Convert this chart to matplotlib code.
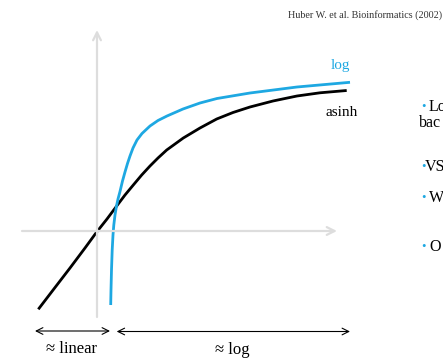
import matplotlib
matplotlib.use('Agg')
import matplotlib.pyplot as plt

# Curvas (origem no cruzamento dos eixos, 1 unidade = 10 px)
log_x = [1.37, 1.40, 1.45, 1.52, 1.60, 1.68, 1.8, 1.95, 2.1, 2.3, 2.55, 2.8, 3.05, 3.3,
         3.6, 4.0, 4.5, 5.3, 6.1, 7.0, 8.6, 10.3, 12.0, 15.3, 20.0, 25.3]
log_y = [-7.4, -5.9, -3.9, -1.9, -0.4, 0.6, 1.6, 2.5, 3.2, 3.95, 5.0, 5.9, 6.75, 7.5,
         8.3, 9.1, 9.75, 10.5, 11.05, 11.5, 12.2, 12.8, 13.25, 13.8, 14.4, 14.87]

asinh_x = [-5.87, -4.2, -2.7, -1.2, -0.03, 1.0, 1.97, 2.8, 3.63, 4.47, 5.3, 6.1, 6.97,
           7.8, 8.63, 10.3, 11.97, 13.6, 15.3, 17.6, 20.0, 22.3, 24.97]
asinh_y = [-7.83, -5.65, -3.7, -1.7, -0.1, 1.2, 2.5, 3.6, 4.6, 5.6, 6.5, 7.3, 8.1,
           8.7, 9.3, 10.3, 11.2, 11.85, 12.4, 13.0, 13.5, 13.82, 14.05]

eixo_x = [-7.5, 24.0]
eixo_y = [-8.6, 20.1]
faixa_linear = [-6.2, 1.3]
faixa_log = [1.97, 25.3]

topicos = ['Lo', 'VS', 'W', 'O']
topicos_y = [12.4, 6.4, 3.3, -1.6]

AZUL = '#1ea8e2'
CINZA = '#dddddd'
SERIF = ['Liberation Serif', 'DejaVu Serif']


def seta(ax, x0, y0, x1, y1, estilo, cor, lw, escala):
    ax.annotate('', xy=(x1, y1), xytext=(x0, y0),
                arrowprops=dict(arrowstyle=estilo, color=cor, lw=lw,
                                mutation_scale=escala, shrinkA=0, shrinkB=0))


def main():
    fig = plt.figure(figsize=(4.43, 3.6), dpi=100)
    ax = fig.add_axes([0, 0, 1, 1])
    ax.set_xlim(-9.7, 34.6)
    ax.set_ylim(-12.9, 23.1)
    ax.axis('off')

    # eixos cinza
    seta(ax, eixo_x[0], 0, eixo_x[1], 0, '->', CINZA, 1.6, 14)
    seta(ax, 0, eixo_y[0], 0, eixo_y[1], '->', CINZA, 1.6, 14)

    ax.plot(asinh_x, asinh_y, color='black', lw=2, solid_capstyle='butt',
            solid_joinstyle='round')
    ax.plot(log_x, log_y, color=AZUL, lw=2, solid_capstyle='butt',
            solid_joinstyle='round')

    ax.text(24.3, 16.6, 'log', color=AZUL, fontsize=11, family=SERIF,
            ha='center', va='center')
    ax.text(24.5, 11.9, 'asinh', color='black', fontsize=11, family=SERIF,
            ha='center', va='center')

    # faixas embaixo
    seta(ax, faixa_linear[0], -10.0, faixa_linear[1], -10.0, '<->', 'black', 0.8, 12)
    seta(ax, faixa_log[0], -10.05, faixa_log[1], -10.05, '<->', 'black', 0.8, 12)
    ax.text(-2.5, -11.8, '≈ linear', fontsize=12, family=SERIF, ha='center', va='center')
    ax.text(13.5, -11.9, '≈ log', fontsize=12, family=SERIF, ha='center', va='center')

    ax.text(34.5, 21.6, 'Huber W. et al. Bioinformatics (2002)', fontsize=7.3,
            family=SERIF, ha='right', va='center', color='#333333')

    # texto cortado do slide à direita (cortado como no original)
    for palavra, y in zip(topicos, topicos_y):
        ax.text(32.4, y, '•', color=AZUL, fontsize=9, family=SERIF, ha='left', va='center')
        ax.text(33.2 if palavra != 'VS' else 32.8, y, palavra, fontsize=11.5,
                family=SERIF, ha='left', va='center')
    ax.text(32.2, 10.8, 'bac', fontsize=11.5, family=SERIF, ha='left', va='center')

    fig.savefig('out.png', dpi=100)


if __name__ == "__main__":
    main()
